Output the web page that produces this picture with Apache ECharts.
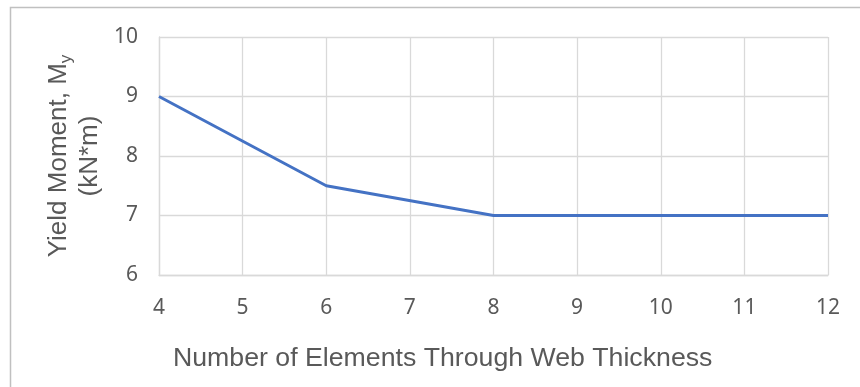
<!DOCTYPE html>
<html>
<head>
<meta charset="utf-8">
<script src="https://cdn.jsdelivr.net/npm/echarts@6/dist/echarts.min.js"></script>
<style>
html,body{margin:0;padding:0;background:#fff;}
#chart{width:860px;height:387px;}
</style>
</head>
<body>
<div id="chart"></div>
<script>
var elementCounts = [4, 6, 8, 10, 12];
var yieldMoments = [9, 7.5, 7, 7, 7];
var xTitle = 'Number of Elements Through Web Thickness';
var yTitleLine1 = 'Yield Moment, M';
var yTitleSub = 'y';
var yTitleLine2 = '(kN*m)';

var chart = echarts.init(document.getElementById('chart'));
var points = elementCounts.map(function (x, i) { return [x, yieldMoments[i]]; });
var tickFont = {color: '#595959', fontFamily: 'Noto Sans', fontSize: 21};
var gridLine = {show: true, lineStyle: {color: '#d9d9d9', width: 1.3}};
chart.setOption({
  animation: false,
  backgroundColor: '#fff',
  grid: {left: 159, right: 32, top: 37, bottom: 112, containLabel: false},
  xAxis: {
    type: 'value', min: 4, max: 12, interval: 1,
    axisLine: {show: true, lineStyle: {color: '#d9d9d9', width: 1.3}},
    axisTick: {show: false},
    splitLine: gridLine,
    axisLabel: Object.assign({margin: 23}, tickFont)
  },
  yAxis: {
    type: 'value', min: 6, max: 10, interval: 1,
    axisLine: {show: true, lineStyle: {color: '#d9d9d9', width: 1.3}},
    axisTick: {show: false},
    splitLine: gridLine,
    axisLabel: Object.assign({margin: 21}, tickFont),
    name: '{t|' + yTitleLine1 + '}{s|' + yTitleSub + '}\n{t|' + yTitleLine2 + '}',
    nameLocation: 'middle',
    nameRotate: 90,
    nameGap: 53,
    nameTextStyle: {
      rich: {
        t: {fontFamily: 'Liberation Sans', fontSize: 26, color: '#595959', lineHeight: 31},
        s: {fontFamily: 'Liberation Sans', fontSize: 17, color: '#595959', lineHeight: 31, verticalAlign: 'bottom', padding: [8, 0, 0, 0]}
      }
    }
  },
  graphic: [
    {type: 'rect', silent: true, z: -10, shape: {x: 10.5, y: 7.5, width: 900, height: 500}, style: {fill: '#fff', stroke: '#c0c0c0', lineWidth: 1.5}},
    {type: 'text', left: 173, top: 345, style: {text: xTitle, fontFamily: 'Liberation Sans', fontSize: 26.7, fill: '#595959'}}
  ],
  series: [{
    type: 'line',
    data: points,
    showSymbol: false,
    symbol: 'none',
    lineStyle: {color: '#4472c4', width: 3},
    itemStyle: {color: '#4472c4'}
  }]
});
</script>
</body>
</html>
